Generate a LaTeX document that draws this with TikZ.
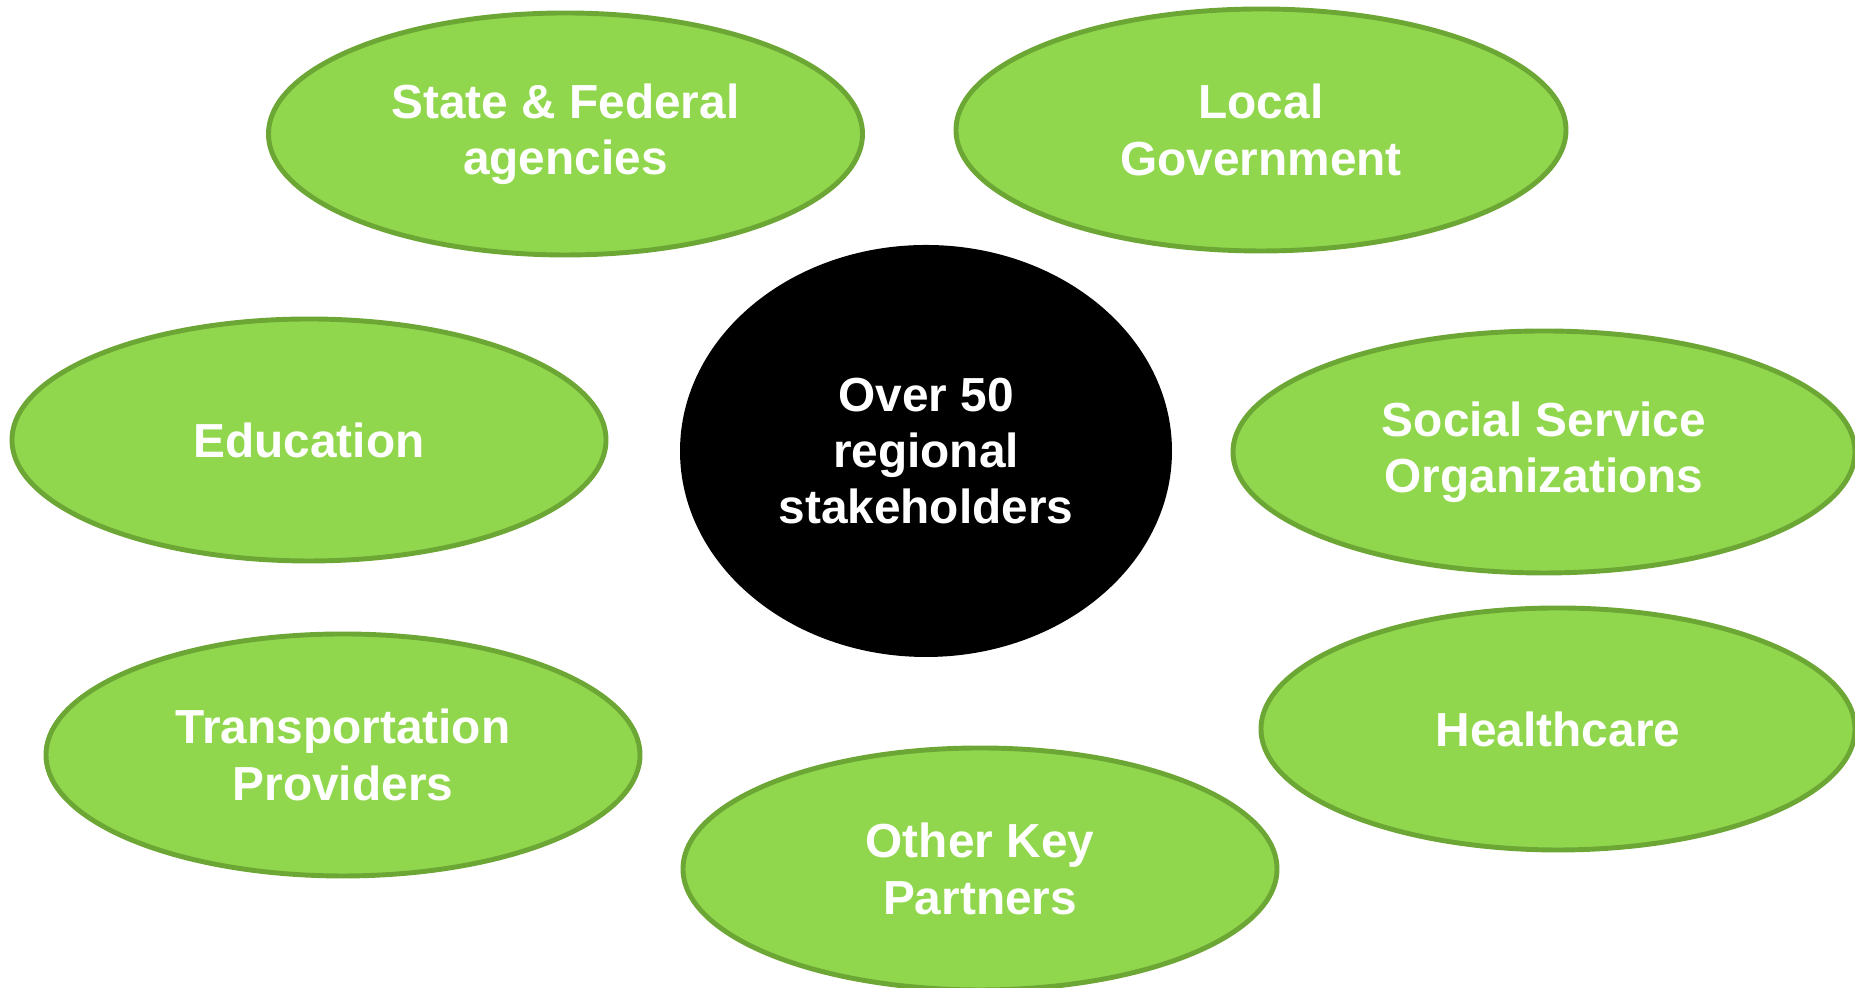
\documentclass[tikz,border=0pt]{standalone}
\usepackage{fontspec}
\setmainfont{Liberation Sans}
\usetikzlibrary{shapes.geometric}
\definecolor{leaf}{RGB}{145,215,78}
\definecolor{leafline}{RGB}{108,166,52}
\begin{document}
\begin{tikzpicture}[line join=round,
  group/.style={ellipse,draw=leafline,fill=leaf,line width=1.4pt,inner sep=0pt,
    minimum width=5.94cm,minimum height=2.42cm,text=white,align=center,
    font=\fontsize{13.6}{16}\selectfont\bfseries},
  hub/.style={ellipse,fill=black,inner sep=0pt,minimum width=4.92cm,
    minimum height=4.12cm,text=white,align=center,
    font=\fontsize{13.6}{16}\selectfont\bfseries}]
  \useasboundingbox (0,0) rectangle (18.55,9.88);
  \node (hub) [hub] at (9.26,5.37) {Over 50\\regional\\stakeholders};
  \node (state) [group] at (5.655,8.54) {State \& Federal\\agencies};
  \node (local) [group,minimum width=6.1cm] at (12.61,8.58) {Local\\Government};
  \node (edu) [group] at (3.09,5.48) {Education};
  \node (social) [group,minimum width=6.22cm] at (15.44,5.36) {Social Service\\Organizations};
  \node (transit) [group] at (3.43,2.33) {Transportation\\Providers};
  \node (health) [group] at (15.58,2.59) {Healthcare};
  \node (other) [group] at (9.80,1.19) {Other Key\\Partners};
\end{tikzpicture}
\end{document}
